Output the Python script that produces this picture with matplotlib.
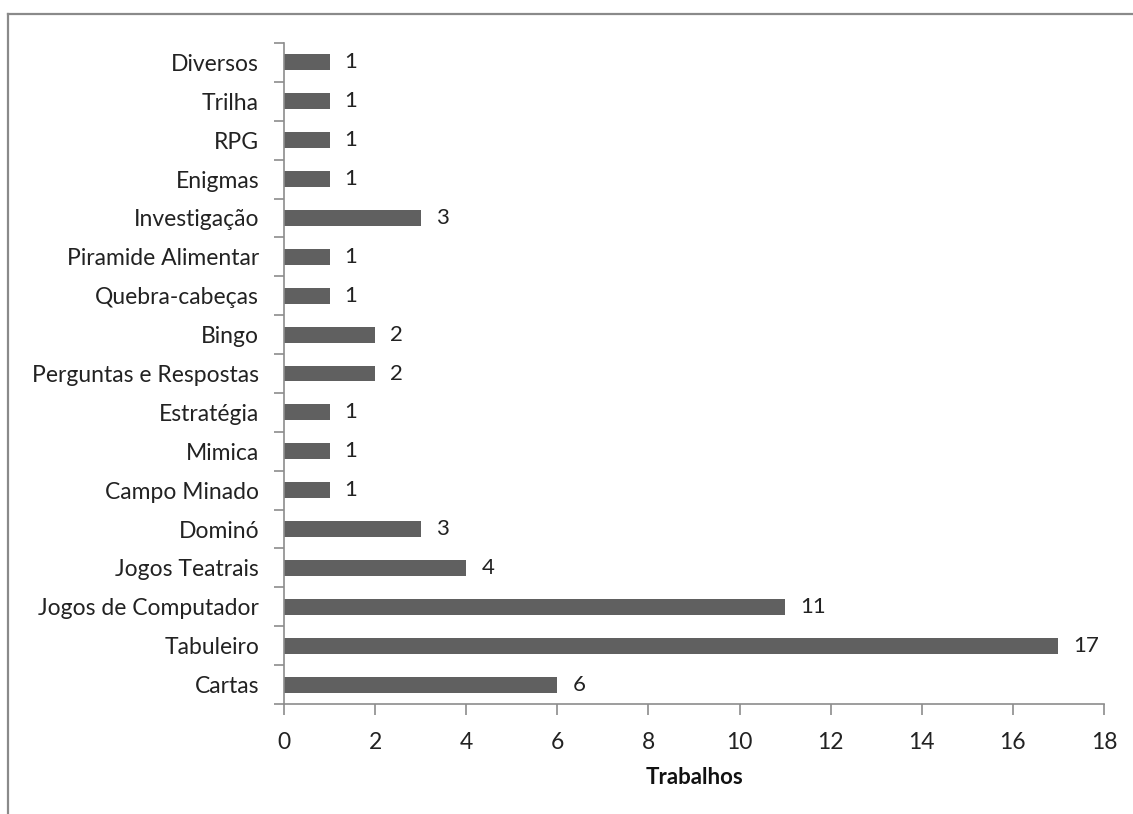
import matplotlib.pyplot as plt
from matplotlib.lines import Line2D
import numpy as np

plt.rcParams['font.family'] = ['Lato', 'DejaVu Sans']

# categorias de baixo para cima
categorias = ['Cartas', 'Tabuleiro', 'Jogos de Computador', 'Jogos Teatrais',
              'Dominó', 'Campo Minado', 'Mimica', 'Estratégia',
              'Perguntas e Respostas', 'Bingo', 'Quebra-cabeças',
              'Piramide Alimentar', 'Investigação', 'Enigmas', 'RPG',
              'Trilha', 'Diversos']
trabalhos = [6, 17, 11, 4, 3, 1, 1, 1, 2, 2, 1, 1, 3, 1, 1, 1, 1]
x_ticks = [0, 2, 4, 6, 8, 10, 12, 14, 16, 18]

fig = plt.figure(figsize=(11.33, 8.14), dpi=100)
ax = fig.add_axes([0.2507, 0.1351, 0.7237, 0.8121])

y = np.arange(len(categorias))
ax.barh(y, trabalhos, height=0.41, color='#606060')

for yi, v in zip(y, trabalhos):
    ax.text(v + 0.33, yi, str(v), va='center', ha='left', fontsize=16, color='#222222')

ax.set_xlim(0, 18)
ax.set_ylim(-0.5, len(categorias) - 0.5)
ax.set_xticks(x_ticks)
ax.set_yticks(y)
ax.set_yticklabels(categorias)
ax.set_yticks(np.arange(-0.5, len(categorias), 1), minor=True)

for s in ['top', 'right']:
    ax.spines[s].set_visible(False)
for s in ['left', 'bottom']:
    ax.spines[s].set_color('#8c8c8c')
    ax.spines[s].set_linewidth(1.2)

ax.tick_params(axis='y', which='major', length=0, pad=18, labelsize=16.5, labelcolor='#222222')
ax.tick_params(axis='y', which='minor', length=7, color='#8c8c8c', width=1.2)
ax.tick_params(axis='x', length=8, color='#8c8c8c', width=1.2, labelsize=16.5,
               labelcolor='#222222', pad=12)

ax.set_xlabel('Trabalhos', fontsize=16, fontweight='bold', labelpad=10, color='#111111')

# moldura do gráfico
fig.add_artist(Line2D([0.0075, 1.0], [0.9834, 0.9834], color='#8a8a8a', lw=1.6))
fig.add_artist(Line2D([0.0075, 0.0075], [0.0, 0.9834], color='#8a8a8a', lw=1.6))

plt.savefig('out.png', dpi=100)
